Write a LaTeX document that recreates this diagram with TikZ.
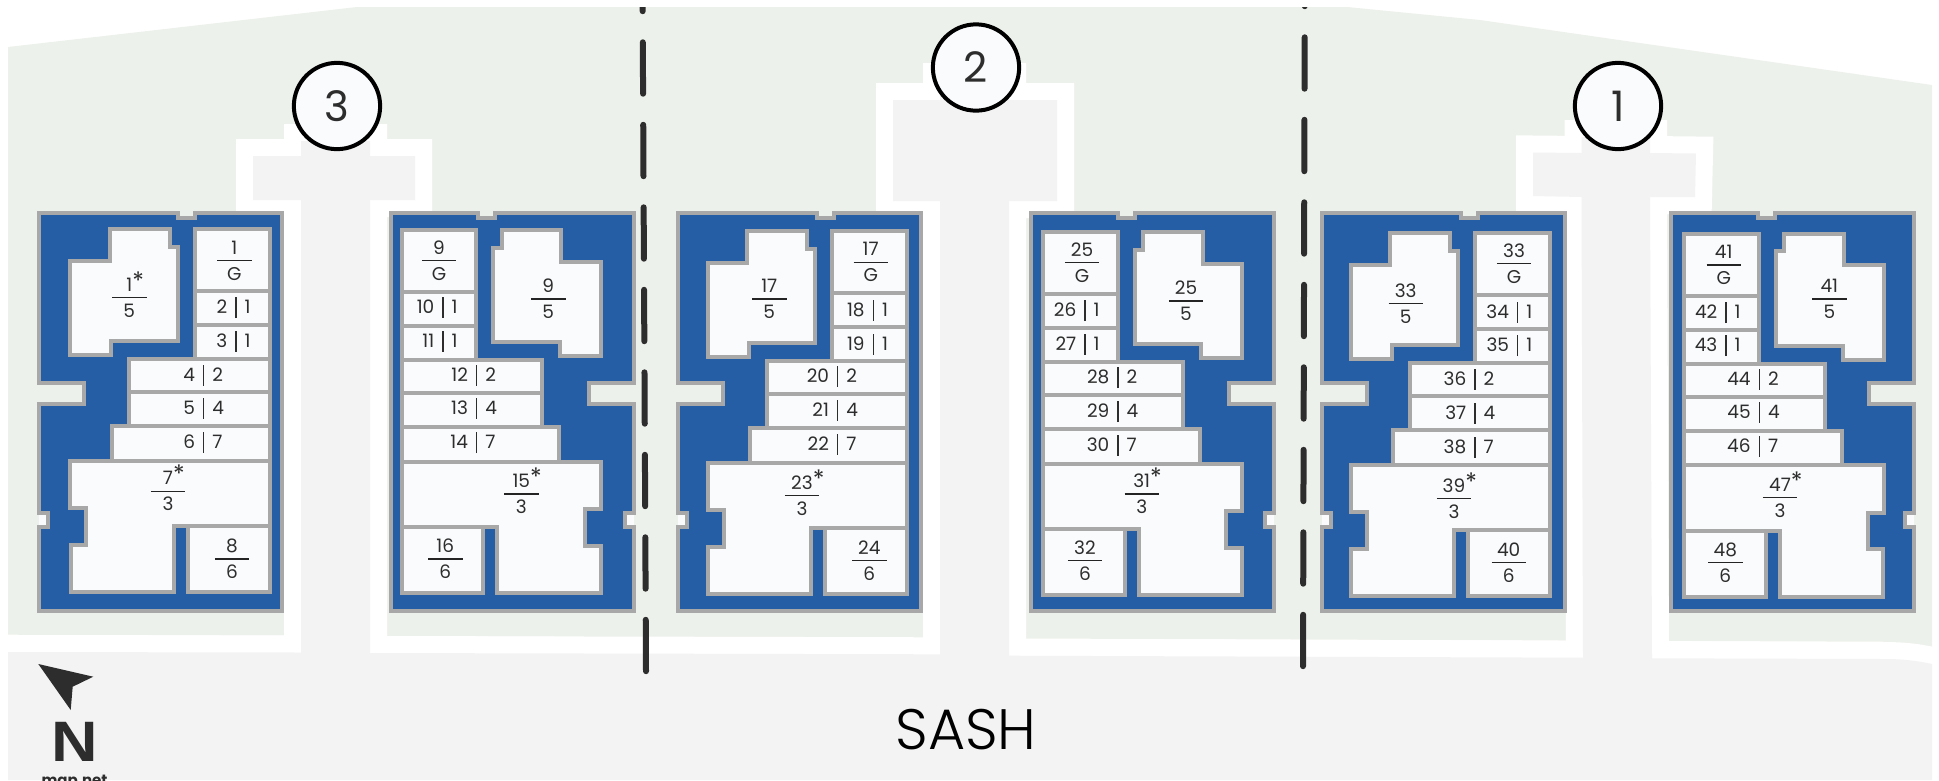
\documentclass[tikz,border=0pt]{standalone}
\usepackage{fontspec}
\setmainfont{Poppins}
\newfontfamily\sashfont{Poppins Light}
\newfontfamily\northfont{Liberation Sans}
\usepackage{tikz}

\definecolor{lawngreen}{HTML}{EDF1EB}
\definecolor{roadgray}{HTML}{F3F3F3}
\definecolor{blockblue}{HTML}{265EA5}
\definecolor{wallgray}{HTML}{A8A8A8}
\definecolor{roomwhite}{HTML}{FAFBFD}
\definecolor{inkdark}{HTML}{2D2D2D}

\tikzset{
  wall/.style={draw=wallgray,line width=4pt,fill=blockblue},
  room/.style={draw=wallgray,line width=4pt,fill=roomwhite},
  road/.style={preaction={draw=white,line width=34pt},fill=roadgray},
  border/.style={draw=inkdark,line width=6pt,line cap=round,dash pattern=on 51.4pt off 31.1pt},
  stacked/.style={inner sep=0pt,text width=34pt,align=center,text=inkdark,font=\fontsize{18.5}{26}\selectfont},
  paired/.style={inner sep=0pt,text=inkdark,font=\fontsize{18.5}{20}\selectfont},
  unitbar/.style={draw=inkdark!80!black,line width=1.4pt},
  phase/.style={circle,draw=black,line width=4pt,fill=roomwhite,inner sep=0pt,minimum size=86.3pt,text=inkdark,font=\fontsize{42}{44}\selectfont}
}

\newcommand{\starmark}{\rlap{\smash{\raisebox{2pt}{\fontsize{24}{24}\selectfont *}}}}
\newcommand{\stackunit}[4]{%
  \node[stacked] (#1) at (#2) {#3\\#4};
  \draw[unitbar] (#1.west) -- (#1.east);}
\newcommand{\pairunit}[4]{%
  \node[paired] (#1) at (#2) {\llap{#3\kern8pt}\rule[-4.5pt]{1.4pt}{21pt}\rlap{\kern8pt #4}};}
% origin x, mirror, room shift x, room shift y
\newcommand{\block}[4]{%
  \begin{scope}[shift={(#1,212.7)},xscale=#2]
    \fill[roomwhite] (0,300.7) rectangle (9,314);
    \draw[wall] (0,0) -- (139,0) -- (139,5.3) -- (155.7,5.3) -- (155.7,0) -- (242.7,0) -- (242.7,398.7)
      -- (0,398.7) -- (0,314) -- (9,314) -- (9,300.7) -- (0,300.7) -- (0,191.7) -- (45,191.7) -- (45,170.3) -- (0,170.3) -- cycle;
    \begin{scope}[shift={(#3,#4)}]
      \draw[room] (71,16.3) -- (130.7,16.3) -- (130.7,34) -- (139,34) -- (139,128.3) -- (72.3,128.3)
        -- (72.3,142.3) -- (31.3,142.3) -- (31.3,48) -- (71,48) -- cycle;
      \draw[room] (156,16.3) rectangle (230.7,78.7);
      \draw[room] (156,78.7) rectangle (230.7,112.3);
      \draw[room] (156,112.3) rectangle (230.7,146.3);
      \draw[room] (90.3,146.3) rectangle (230.7,179.7);
      \draw[room] (90.3,179.7) rectangle (230.7,213.3);
      \draw[room] (73.3,213.3) rectangle (230.7,248);
      \draw[room] (31.3,248) -- (230.7,248) -- (230.7,313.3) -- (135,313.3) -- (135,379.3) -- (31.7,379.3)
        -- (31.7,332) -- (47.3,332) -- (47.3,295.7) -- (31.3,295.7) -- cycle;
      \draw[room] (149,313.3) rectangle (230.7,379.3);
    \end{scope}
  \end{scope}}

\begin{document}
\begin{tikzpicture}[x=1pt,y=-1pt,line join=miter]
  \path[use as bounding box,fill=white] (0,0) rectangle (1939,780);

  % ground
  \fill[lawngreen] (8,47) -- (357,7) -- (1347,7) -- (1480,20) -- (1932,85) -- (1932,646.7) -- (1883,641.7) -- (8,634.7) -- cycle;
  \path[road] (8,652) -- (301,652.5) -- (301,200) -- (253,200) -- (253,156) -- (301,156) -- (301,141) -- (370,141) -- (370,156)
    -- (415,156) -- (415,200) -- (370,200) -- (370,653) -- (940,654.3) -- (940,201) -- (893,201) -- (893,100) -- (940,100)
    -- (940,80) -- (1009,80) -- (1009,100) -- (1057,100) -- (1057,201) -- (1009,201) -- (1009,655.7) -- (1583,657.7)
    -- (1581.5,197) -- (1533,196) -- (1533,152.5) -- (1581.5,153) -- (1581.5,137) -- (1650,137) -- (1650,153) -- (1696,153.5)
    -- (1695,197) -- (1650,197) -- (1652,658.3) -- (1883,659) .. controls (1905,659) and (1918,661) .. (1932,664)
    -- (1932,780) -- (8,780) -- cycle;

  % blocks
  \block{39}{1}{0}{0}
  \block{633.7}{-1}{1.3}{1}
  \block{678}{1}{-1.7}{2}
  \block{1273.7}{-1}{0}{3}
  \block{1322.3}{1}{-3}{4}
  \block{1913.7}{-1}{-1.3}{4.7}

  % units
  \stackunit{u1}{234.3,260.7}{1}{G}
  \stackunit{a1}{129.3,297.7}{1\starmark}{5}
  \pairunit{u2}{236,307.7}{2}{1}
  \pairunit{u3}{236,341}{3}{1}
  \pairunit{u4}{203.7,375}{4}{2}
  \pairunit{u5}{203.7,408.3}{5}{4}
  \pairunit{u6}{203.7,442}{6}{7}
  \stackunit{u7}{168,491.3}{7\starmark}{3}
  \stackunit{u8}{232,559}{8}{6}

  \stackunit{u9}{439,260.7}{9}{G}
  \stackunit{a9}{548.3,299}{9}{5}
  \pairunit{u10}{443,307.3}{10}{1}
  \pairunit{u11}{443,341}{11}{1}
  \pairunit{u12}{476.7,375}{12}{2}
  \pairunit{u13}{476.7,408.3}{13}{4}
  \pairunit{u14}{476.7,442.7}{14}{7}
  \stackunit{u15}{521.3,494}{15\starmark}{3}
  \stackunit{u16}{445.3,559}{16}{6}

  \stackunit{u17}{870.7,262.3}{17}{G}
  \stackunit{a17}{769.3,299}{17}{5}
  \pairunit{u18}{873.3,310}{18}{1}
  \pairunit{u19}{873.3,344}{19}{1}
  \pairunit{u20}{837.7,376}{20}{2}
  \pairunit{u21}{837.7,410}{21}{4}
  \pairunit{u22}{837.7,444}{22}{7}
  \stackunit{u23}{802,495.7}{23\starmark}{3}
  \stackunit{u24}{869.3,560.7}{24}{6}

  \stackunit{u25}{1082,262.3}{25}{G}
  \stackunit{a25}{1186,301}{25}{5}
  \pairunit{u26}{1085,310.7}{26}{1}
  \pairunit{u27}{1085,344.3}{27}{1}
  \pairunit{u28}{1118,377.7}{28}{2}
  \pairunit{u29}{1118,411.7}{29}{4}
  \pairunit{u30}{1118,445}{30}{7}
  \stackunit{u31}{1141.7,494}{31\starmark}{3}
  \stackunit{u32}{1085,560.7}{32}{6}

  \stackunit{u33}{1514,263.3}{33}{G}
  \stackunit{a33}{1405.7,303.3}{33}{5}
  \pairunit{u34}{1517.7,312.3}{34}{1}
  \pairunit{u35}{1517.7,345.7}{35}{1}
  \pairunit{u36}{1475,379}{36}{2}
  \pairunit{u37}{1475,413.3}{37}{4}
  \pairunit{u38}{1475,447.3}{38}{7}
  \stackunit{u39}{1454,498.3}{39\starmark}{3}
  \stackunit{u40}{1508.7,562.7}{40}{6}

  \stackunit{u41}{1723.7,265}{41}{G}
  \stackunit{a41}{1829.3,299}{41}{5}
  \pairunit{u42}{1726,312.7}{42}{1}
  \pairunit{u43}{1726,345.7}{43}{1}
  \pairunit{u44}{1759.3,379}{44}{2}
  \pairunit{u45}{1759.3,412.3}{45}{4}
  \pairunit{u46}{1759.3,446}{46}{7}
  \stackunit{u47}{1780,497.7}{47\starmark}{3}
  \stackunit{u48}{1725.3,562.7}{48}{6}

  % phase borders
  \coordinate (cutatop) at (642.4,-40.2);
  \coordinate (cutabot) at (646,671.2);
  \coordinate (cutbtop) at (1304.9,-45.2);
  \coordinate (cutbbot) at (1303,666.2);
  \begin{scope}
    \clip (0,7) rectangle (1939,780);
    \draw[border] (cutatop) -- (cutabot);
    \draw[border] (cutbtop) -- (cutbbot);
  \end{scope}

  % phases
  \node[phase] (phase3) at (337,106) {3};
  \node[phase] (phase2) at (976,67.5) {2};
  \node[phase] (phase1) at (1618,106) {1};

  % street, north arrow
  \node[text=black,font=\sashfont\fontsize{57}{60}\selectfont] (street) at (966,730) {SASH};
  \fill[inkdark] (38.3,664) -- (93.3,676.7) -- (72.7,686.7) -- (70.7,710) -- cycle;
  \node[text=inkdark,inner sep=0pt,font=\northfont\bfseries\fontsize{57}{60}\selectfont] (north) at (74.5,742) {\scalebox{1.13}[1]{N}};
  \node[text=inkdark,inner sep=0pt,anchor=base,font=\bfseries\fontsize{15}{18}\selectfont] (credit) at (74.5,785.5) {map.net};
\end{tikzpicture}
\end{document}
